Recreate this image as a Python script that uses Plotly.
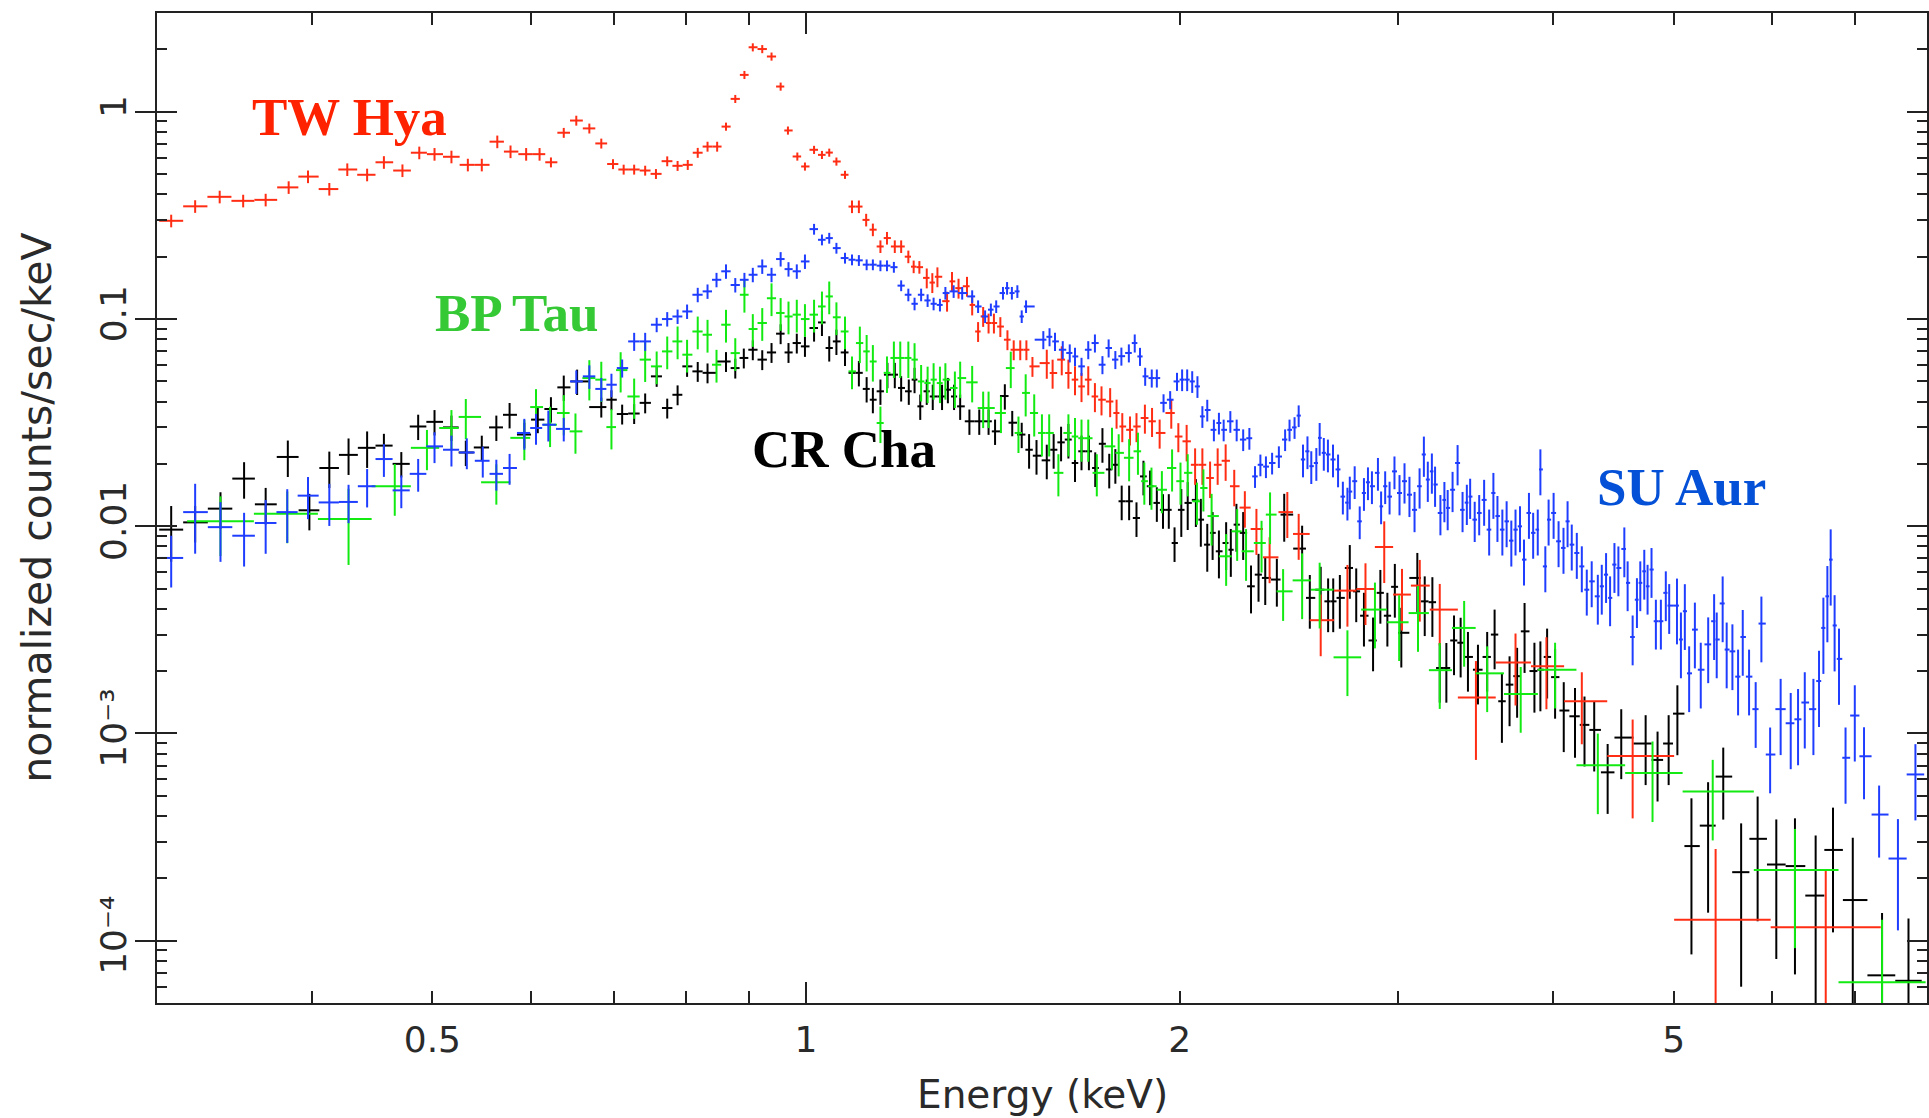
import numpy as np
import plotly.graph_objects as go

# ------------------------------------------------------------------
# Data (energy in keV, flux in counts/s/keV)
# ------------------------------------------------------------------
# TW Hya (red)
tw_e = [0.308,0.322,0.337,0.352,0.367,0.383,0.397,0.413,0.427,0.443,0.457,0.473,0.488,0.502,0.518,0.534,0.548,0.564,0.578,0.595,
        0.610,0.623,0.638,0.653,0.669,0.684,0.699,0.713,0.727,0.742,0.757,0.773,0.788,0.803,0.818,0.833,0.848,
        0.862,0.877,0.892,0.906,0.922,0.938,0.954,0.967,0.984,0.998,1.015,1.030,1.044,1.058,1.075,1.089,1.103,1.118,1.132,1.148,
        1.162,1.179,1.193,1.209,1.221,1.234,1.251,1.264,1.276,1.299,1.311,1.327,1.348,1.361,1.376,1.389,1.403,1.417,1.434,1.453,
        1.470,1.488,1.505,1.522,
        1.563,1.580,1.607,1.627,1.647,1.667,1.688,1.709,1.730,1.758,1.779,1.798,1.824,1.846,1.875,1.900,1.927,1.969,1.995,2.026,
        2.058,2.086,2.116,2.146,2.178,2.213,2.257,2.306,2.363,2.442,2.494,2.598,2.730,2.823,2.923,3.021,3.122,3.240,3.465,3.729,
        3.949,4.217,4.634,5.405,6.63]
tw_y = [0.298,0.350,0.389,0.372,0.376,0.432,0.487,0.424,0.527,0.497,0.571,0.521,0.635,0.625,0.607,0.555,0.555,0.718,0.643,0.625,
        0.625,0.571,0.793,0.908,0.832,0.704,0.560,0.527,0.527,0.521,0.502,0.578,0.549,0.555,0.635,0.680,0.680,
        0.849,1.155,1.508,2.05,2.01,1.85,1.325,0.813,0.609,0.545,0.656,0.620,0.636,0.576,0.497,0.349,0.349,0.301,0.270,0.224,
        0.246,0.224,0.224,0.200,0.179,0.178,0.158,0.150,0.160,0.122,0.152,0.141,0.144,0.117,0.0871,0.103,0.0957,0.0957,0.092,0.0795,
        0.0711,0.0711,0.0711,0.0591,
        0.0613,0.0549,0.0637,0.0549,0.0510,0.0473,0.0510,0.0423,0.0408,0.0400,0.0352,0.0303,0.0292,0.0303,0.0333,0.0321,0.0282,0.0352,0.0271,0.0257,
        0.0198,0.0198,0.0171,0.0198,0.0207,0.0156,0.0123,0.0097,0.00708,0.0117,0.00918,0.00352,0.00489,0.00498,0.00794,0.00468,0.00517,0.00396,0.00149,0.00220,
        0.00211,0.00143,0.000778,0.000126,0.000116]
# fractional 1-sigma error per energy band: (upper energy, relative error)
tw_err_bands = [(0.62,0.07),(0.85,0.055),(1.08,0.045),(1.24,0.07),(1.53,0.11),(2.0,0.16),(2.3,0.2),(2.5,0.25),
                (3.3,0.33),(3.5,0.5),(4.3,0.38),(4.7,0.5),(6.0,1.2),(9.0,0.9)]

# CR Cha (black)
cr_e = [0.308,0.322,0.3375,0.3526,0.367,0.3824,0.398,0.413,0.428,0.443,0.457,0.472,0.487,0.502,0.518,0.532,0.548,0.563,0.577,0.593,
        0.608,0.623,0.638,0.654,
        0.684,0.697,0.711,0.727,0.742,0.758,0.773,0.788,0.802,0.818,0.833,0.862,0.877,0.891,0.906,0.922,0.938,0.954,0.968,0.983,
        0.998,1.015,1.030,1.044,1.058,1.075,1.089,1.103,1.119,1.132,1.148,1.163,1.179,1.193,1.210,1.223,1.236,1.251,1.265,1.287,
        1.301,1.316,1.331,1.354,1.379,1.403,1.420,1.446,1.466,1.492,1.5125,1.5335,
        1.563,1.583,1.605,1.627,1.647,1.667,1.690,1.710,1.733,1.755,1.775,1.796,1.821,1.846,1.870,1.893,1.917,1.939,1.960,1.981,
        2.006,2.030,2.061,2.080,2.105,2.126,2.151,2.180,2.199,2.222,2.250,2.283,2.315,2.344,2.395,2.428,2.51,2.546,
        2.598,2.634,2.659,2.692,2.742,2.775,2.815,2.863,2.902,2.940,2.981,3.017,3.108,3.151,3.196,3.240,3.280,3.327,3.368,3.414,
        3.478,3.538,3.587,3.636,3.688,3.740,3.792,3.862,3.905,3.954,4.013,4.078,4.164,4.238,4.315,4.424,4.537,4.747,4.853,4.954,
        5.035,5.168,5.330,5.482,5.667,5.843,6.049,6.262,6.507,6.720,6.971,7.36,7.73]
cr_y = [0.00963,0.01044,0.01216,0.01698,0.01276,0.0216,0.01194,0.0191,0.0221,0.0239,0.0245,0.0200,0.0303,0.0319,0.0300,0.0227,0.0240,0.0300,0.0345,0.0277,
        0.0327,0.0368,0.0468,0.0500,
        0.0376,0.0408,0.0348,0.0350,0.0394,0.0529,0.0372,0.0431,0.0591,0.0559,0.0550,0.0624,0.0580,0.0649,0.0711,0.0637,0.0690,0.0850,0.0690,0.0766,
        0.0738,0.0905,0.0963,0.0725,0.0780,0.0690,0.0550,0.0550,0.0460,0.0408,0.0448,0.0539,0.0539,0.0465,0.0448,0.0510,0.0379,0.0448,0.0423,0.0423,
        0.0456,0.0423,0.0379,0.0321,0.0321,0.0321,0.0287,0.0425,0.0316,0.0277,0.0234,0.0219,
        0.0208,0.0234,0.0254,0.0262,0.0202,0.0230,0.0230,0.0191,0.0250,0.0188,0.0198,0.0132,0.0132,0.01096,0.0174,0.0156,0.01296,0.0120,0.0120,0.0083,
        0.0120,0.01296,0.0134,0.01076,0.00815,0.00929,0.00757,0.0083,0.0077,0.01018,0.00929,0.00513,0.00584,0.00563,0.00553,0.01138,0.0078,0.00451,
        0.00494,0.00434,0.00434,0.00451,0.00629,0.00485,0.00370,0.00281,0.00477,0.00370,0.00510,0.00306,0.00563,0.00434,0.00430,0.00207,0.00207,0.00281,0.00274,0.00234,
        0.00203,0.00234,0.00300,0.00143,0.00172,0.00189,0.00311,0.00200,0.00203,0.00234,0.00187,0.00129,0.00121,0.00110,0.00104,0.000649,0.000955,0.000894,0.000745,0.000894,
        0.001246,0.000286,0.000359,0.000619,0.000214,0.000310,0.000233,0.000229,0.000165,0.000274,0.000157,0.000068,0.000064]
cr_err_bands = [(0.31,0.3),(0.45,0.2),(0.66,0.14),(1.0,0.11),(1.5,0.14),(2.0,0.19),(2.5,0.26),(3.0,0.29),(3.6,0.32),
                (4.4,0.37),(5.1,0.37),(5.2,0.7),(5.35,0.62),(5.5,0.38),(5.7,0.72),(5.9,0.6),(6.1,0.65),(6.3,0.7),
                (6.6,0.95),(6.8,0.6),(9.0,1.0)]

# BP Tau (green)
bp_e = [0.3375,0.382,0.428,0.4663,0.495,0.518,0.532,0.563,0.593,0.606,0.622,0.638,0.652,0.669,0.684,0.697,0.709,0.727,0.742,
        0.758,0.773,0.788,0.802,0.818,0.833,0.847,0.862,0.877,0.892,0.906,0.922,0.938,0.954,0.968,0.983,0.998,1.015,1.030,1.044,
        1.058,1.075,1.089,1.105,1.119,1.132,1.148,1.162,1.177,1.191,1.209,1.223,1.238,1.253,1.267,1.282,1.295,1.318,1.331,1.361,
        1.389,1.403,
        1.4356,1.462,1.483,1.503,1.527,1.549,1.570,1.597,1.627,1.647,1.667,1.688,1.715,1.764,1.786,1.821,1.851,1.873,1.898,1.935,
        1.972,2.003,2.030,2.065,2.090,2.122,2.180,2.225,2.262,2.328,2.365,2.423,
        2.51,2.593,2.730,2.873,3.005,3.112,3.240,3.39,3.538,3.765,4.013,4.344,4.808,5.376,6.262,7.36]
bp_y = [0.01056,0.01150,0.01084,0.0156,0.0239,0.0298,0.0337,0.0163,0.0267,0.0376,0.0309,0.0352,0.0287,0.0519,0.0510,0.0301,0.0567,0.0423,0.0637,
        0.0591,0.0698,0.0780,0.0673,0.0871,0.0840,0.0602,0.0939,0.0685,0.131,0.0895,0.0957,0.126,0.107,0.1029,0.105,0.100,0.105,0.115,0.1286,
        0.102,0.0871,0.0559,0.0766,0.0698,0.0624,0.0315,0.0550,0.0649,0.0649,0.0649,0.0637,0.0500,0.0491,0.0510,0.0491,0.0510,0.0465,0.0519,0.0495,
        0.0372,0.0372,
        0.0352,0.0580,0.0282,0.0440,0.0352,0.0282,0.0282,0.0181,0.0282,0.0271,0.0266,0.0266,0.0181,0.0243,0.0226,0.0214,0.0230,0.0165,0.0156,0.0150,
        0.0191,0.0165,0.0181,0.0132,0.0153,0.0112,0.00716,0.00945,0.00757,0.0083,0.01138,0.00485,
        0.00548,0.00494,0.00233,0.00396,0.00344,0.00381,0.00202,0.00323,0.00195,0.00155,0.00203,0.000703,0.000644,0.000525,0.000219,0.000063]
bp_err_bands = [(0.36,0.32),(0.40,0.28),(0.44,0.4),(0.48,0.28),(0.75,0.22),(1.1,0.18),(1.5,0.2),(2.1,0.23),(2.5,0.28),
                (4.1,0.35),(5.5,0.42),(6.5,0.58),(9.0,1.0)]

# SU Aur (blue)
su_e = [0.308,0.322,0.3375,0.3526,0.367,0.382,0.397,0.413,0.428,0.443,0.457,0.472,0.487,0.502,0.518,0.533,0.549,0.563,0.577,0.593,
        0.606,0.620,0.638,0.653,0.669,0.684,0.697,0.711,0.727,0.742,
        0.758,0.773,0.788,0.802,0.818,0.833,0.847,0.862,0.877,0.892,0.906,0.922,0.938,0.954,0.968,0.983,0.998,1.015,1.030,1.044,
        1.058,1.075,1.089,1.103,1.119,1.132,1.148,1.162,1.177,1.193,1.209,1.223,1.238,1.253,1.267,1.282,1.295,1.315,1.336,1.361,
        1.376,1.394,1.409,1.423,1.441,1.452,1.465,1.480,1.492,1.504,
        1.553,1.571,1.587,1.610,1.631,1.647,1.667,1.688,1.709,1.733,1.753,1.775,1.795,1.820,1.840,1.858,1.876,1.899,1.917,1.941,
        1.965,1.990,2.009,2.028,2.047,2.067,2.086,2.105,2.131,2.151,2.170,2.197,2.223,2.250,2.276,2.300,2.323,2.347,2.374,2.404,
        2.432,2.452,2.475,2.494,
        2.514,2.535,2.553,2.577,2.593,2.613,2.633,2.658,2.683,2.707,2.730,2.742,2.767,2.793,2.815,2.836,2.857,2.889,2.906,2.928,
        2.952,2.979,3.007,3.035,3.063,3.092,3.121,3.146,3.169,3.193,3.212,3.244,3.268,3.288,3.318,3.349,3.380,3.407,3.428,3.457,
        3.486,3.518,3.551,3.579,3.606,3.639,3.668,3.700,3.729,3.760,3.788,3.823,3.853,3.886,3.905,3.941,3.965,4.002,4.039,4.076,
        4.107,4.139,4.178,4.217,4.256,4.295,
        4.344,4.376,4.411,4.444,4.480,4.513,4.563,4.591,4.634,4.671,4.700,4.735,4.764,4.799,4.838,4.883,4.928,4.959,5.031,5.068,
        5.105,5.146,5.201,5.258,5.331,5.390,5.416,5.476,5.517,5.576,5.635,5.684,5.751,5.822,5.884,5.980,6.098,6.213,6.298,6.377,
        6.480,6.548,6.601,6.650,6.691,6.740,6.795,6.878,6.997,7.118,7.32,7.58,7.83]
su_y = [0.00703,0.0117,0.0099,0.0090,0.01037,0.0117,0.01405,0.01303,0.0131,0.0156,0.0211,0.0149,0.0179,0.0243,0.0234,0.0227,0.0207,0.0179,0.0191,0.0282,
        0.0298,0.0309,0.0295,0.0500,0.0529,0.0460,0.0482,0.0580,0.0780,0.0780,
        0.0939,0.100,0.1029,0.1088,0.131,0.136,0.1547,0.170,0.146,0.1547,0.1636,0.1795,0.1636,0.1948,0.1742,0.170,0.1897,0.2717,0.2413,0.2459,
        0.220,0.197,0.1933,0.192,0.183,0.183,0.181,0.181,0.178,0.145,0.131,0.1185,0.131,0.123,0.1185,0.117,0.1335,0.136,0.1335,0.1286,
        0.115,0.1029,0.111,0.115,0.1335,0.141,0.1335,0.136,0.1029,0.115,
        0.0795,0.0821,0.0780,0.0711,0.0686,0.0660,0.0591,0.0711,0.0766,0.0602,0.0725,0.0637,0.0662,0.0686,0.0766,0.0660,0.0529,0.0519,0.0519,0.0394,
        0.0408,0.0500,0.0510,0.0510,0.0500,0.0473,0.0339,0.0364,0.0292,0.0315,0.0292,0.0321,0.0292,0.0262,0.0266,0.0174,0.0198,0.0194,0.0202,0.0217,
        0.0262,0.0292,0.0300,0.0342,
        0.0210,0.0230,0.0195,0.0202,0.0267,0.0226,0.0222,0.0210,0.0188,0.0139,0.0130,0.0147,0.0165,0.01056,0.01447,0.0163,0.0156,0.0181,0.01247,0.0156,
        0.0139,0.0184,0.01447,0.0165,0.0142,0.0120,0.0156,0.0222,0.0168,0.0184,0.0159,0.01159,0.0134,0.01226,0.0150,0.0202,0.0120,0.0130,0.0139,0.01076,
        0.01159,0.0134,0.00963,0.01447,0.0112,0.00963,0.01056,0.00852,0.00963,0.00999,0.0069,0.01159,0.00929,0.00963,0.0188,0.0064,0.01076,0.01159,0.00846,0.00786,
        0.01056,0.00815,0.00743,0.0064,0.00494,0.00542,
        0.00459,0.00513,0.00584,0.00451,0.00653,0.00629,0.00777,0.00533,0.00292,0.00442,0.00533,0.00606,0.00513,0.00618,0.00348,0.00348,0.00477,0.00414,0.00414,0.00284,
        0.00389,0.00195,0.00317,0.00203,0.00269,0.00348,0.00284,0.00424,0.00254,0.00249,0.00188,0.00292,0.00188,0.00131,0.00339,0.000791,0.00131,0.00112,0.00117,0.00141,
        0.00131,0.00179,0.00323,0.00459,0.0069,0.00332,0.00229,0.000763,0.00122,0.000776,0.000406,0.000249,0.000634]
su_err_bands = [(0.31,0.28),(0.325,0.37),(0.34,0.32),(0.39,0.29),(0.42,0.23),(0.45,0.21),(0.5,0.18),(0.62,0.17),
                (0.7,0.13),(0.75,0.1),(1.0,0.08),(1.2,0.06),(1.51,0.07),(2.0,0.1),(2.5,0.12),(3.0,0.18),(3.5,0.22),
                (4.3,0.25),(5.0,0.27),(6.0,0.35),(7.0,0.4),(7.4,0.38),(7.7,0.55),(9.0,0.4)]

series_names = ["CR Cha", "TW Hya", "BP Tau", "SU Aur"]
series_colors = ["#000000", "#ff2d14", "#12ea12", "#1f3dff"]
label_colors = ["#000000", "#ff2200", "#36c936", "#0450d6"]

x_label_vals = [0.5, 1, 2, 5]
x_label_text = ["0.5", "1", "2", "5"]
x_unlabeled_ticks = [0.3, 0.4, 0.6, 0.7, 0.8, 0.9, 3, 4, 6, 7, 8]
x_long_ticks = [1]
y_label_vals = [1e-4, 1e-3, 0.01, 0.1, 1]
y_label_text = ["10\u207b\u2074", "10\u207b\u00b3", "0.01", "0.1", "1"]
x_range = (0.3, 8.0)
y_range = (5e-5, 3.0)


def bin_halfwidths(e):
    """Contiguous spectral bins: edges half way (in log) between neighbours."""
    le = np.log10(np.asarray(e, float))
    lo = np.empty_like(le)
    hi = np.empty_like(le)
    mid = 0.5 * (le[1:] + le[:-1])
    lo[1:] = mid
    hi[:-1] = mid
    lo[0] = le[0] - (hi[0] - le[0])
    hi[-1] = le[-1] + (le[-1] - lo[-1])
    ev = 10 ** le
    return ev - 10 ** lo, 10 ** hi - ev


def band_errors(e, y, bands):
    out = []
    for ev, yv in zip(e, y):
        r = bands[-1][1]
        for up, rel in bands:
            if ev <= up:
                r = rel
                break
        out.append(yv * r)
    return out


fig = go.Figure()
all_series = [(cr_e, cr_y, cr_err_bands), (tw_e, tw_y, tw_err_bands),
              (bp_e, bp_y, bp_err_bands), (su_e, su_y, su_err_bands)]
for (e, y, bands), name, col in zip(all_series, series_names, series_colors):
    xm, xp = bin_halfwidths(e)
    fig.add_trace(go.Scatter(
        x=e, y=y, mode="markers", name=name, showlegend=False,
        marker=dict(size=1, color=col),
        error_x=dict(type="data", symmetric=False, array=list(xp), arrayminus=list(xm),
                     width=0, thickness=2, color=col),
        error_y=dict(type="data", symmetric=True, array=band_errors(e, y, bands),
                     width=0, thickness=2, color=col),
    ))

# empty traces hosting the overlay axes that carry the extra (unlabelled) ticks
fig.add_trace(go.Scatter(x=[], y=[], xaxis="x2", yaxis="y2", showlegend=False, hoverinfo="skip"))
fig.add_trace(go.Scatter(x=[], y=[], xaxis="x3", yaxis="y", showlegend=False, hoverinfo="skip"))

# minor (2..9) sub-divisions of each decade on the y axis
y_minor = []
for dec in [1e-5, 1e-4, 1e-3, 1e-2, 1e-1, 1]:
    for m in range(2, 10):
        v = round(m * dec, 12)
        if y_range[0] * 0.999 <= v <= y_range[1] * 1.001:
            y_minor.append(v)

axis_col = "#222222"
tick_font = dict(family="DejaVu Sans", size=36, color="#2a2a2a")
xr = [np.log10(x_range[0]), np.log10(x_range[1])]
yr = [np.log10(y_range[0]), np.log10(y_range[1])]
overlay_common = dict(showgrid=False, zeroline=False, showline=False, mirror="allticks",
                      ticks="inside", tickwidth=2, tickcolor=axis_col,
                      tickmode="array", showticklabels=False)

fig.update_layout(
    width=1929, height=1118, autosize=False,
    margin=dict(l=157, r=0, t=13, b=115, pad=0),
    paper_bgcolor="white", plot_bgcolor="white",
    xaxis=dict(type="log", range=xr, showgrid=False, zeroline=False,
               showline=True, linewidth=2, linecolor=axis_col, mirror="allticks",
               ticks="inside", ticklen=12, tickwidth=2, tickcolor=axis_col,
               tickmode="array", tickvals=x_label_vals, ticktext=x_label_text,
               tickfont=tick_font, ticklabelstandoff=4),
    yaxis=dict(type="log", range=yr, showgrid=False, zeroline=False,
               showline=True, linewidth=2, linecolor=axis_col, mirror="allticks",
               ticks="inside", ticklen=20, tickwidth=2, tickcolor=axis_col,
               tickmode="array", tickvals=y_label_vals, ticktext=y_label_text, tickangle=-90,
               tickfont=tick_font, ticklabelstandoff=15),
    xaxis2=dict(type="log", range=xr, overlaying="x", anchor="y2", side="bottom",
                ticklen=12, tickvals=x_unlabeled_ticks, **overlay_common),
    yaxis2=dict(type="log", range=yr, overlaying="y", anchor="x2", side="left",
                ticklen=10, tickvals=y_minor, **overlay_common),
    xaxis3=dict(type="log", range=xr, overlaying="x", anchor="y", side="bottom",
                ticklen=21, tickvals=x_long_ticks, **overlay_common),
)

# axis titles
fig.add_annotation(text="Energy (keV)", xref="paper", yref="paper", x=0.5, y=-0.0924,
                   xanchor="center", yanchor="middle", showarrow=False,
                   font=dict(family="DejaVu Sans", size=39, color="#2a2a2a"))
fig.add_annotation(text="normalized counts/sec/keV", xref="paper", yref="paper", x=-0.068, y=0.5,
                   xanchor="center", yanchor="middle", textangle=-90, showarrow=False,
                   font=dict(family="DejaVu Sans", size=41, color="#2a2a2a"))

# source labels
label_pos = {"TW Hya": (0.0525, 0.8949), "BP Tau": (0.1558, 0.6966),
             "CR Cha": (0.3349, 0.5593), "SU Aur": (0.8124, 0.5214)}
for name, col in zip(series_names, label_colors):
    lx, ly = label_pos[name]
    fig.add_annotation(text=name, xref="paper", yref="paper", x=lx, y=ly,
                       xanchor="left", yanchor="middle", showarrow=False,
                       font=dict(family="Liberation Serif", size=53, color=col, weight="bold"))

fig.write_html("out.html")
